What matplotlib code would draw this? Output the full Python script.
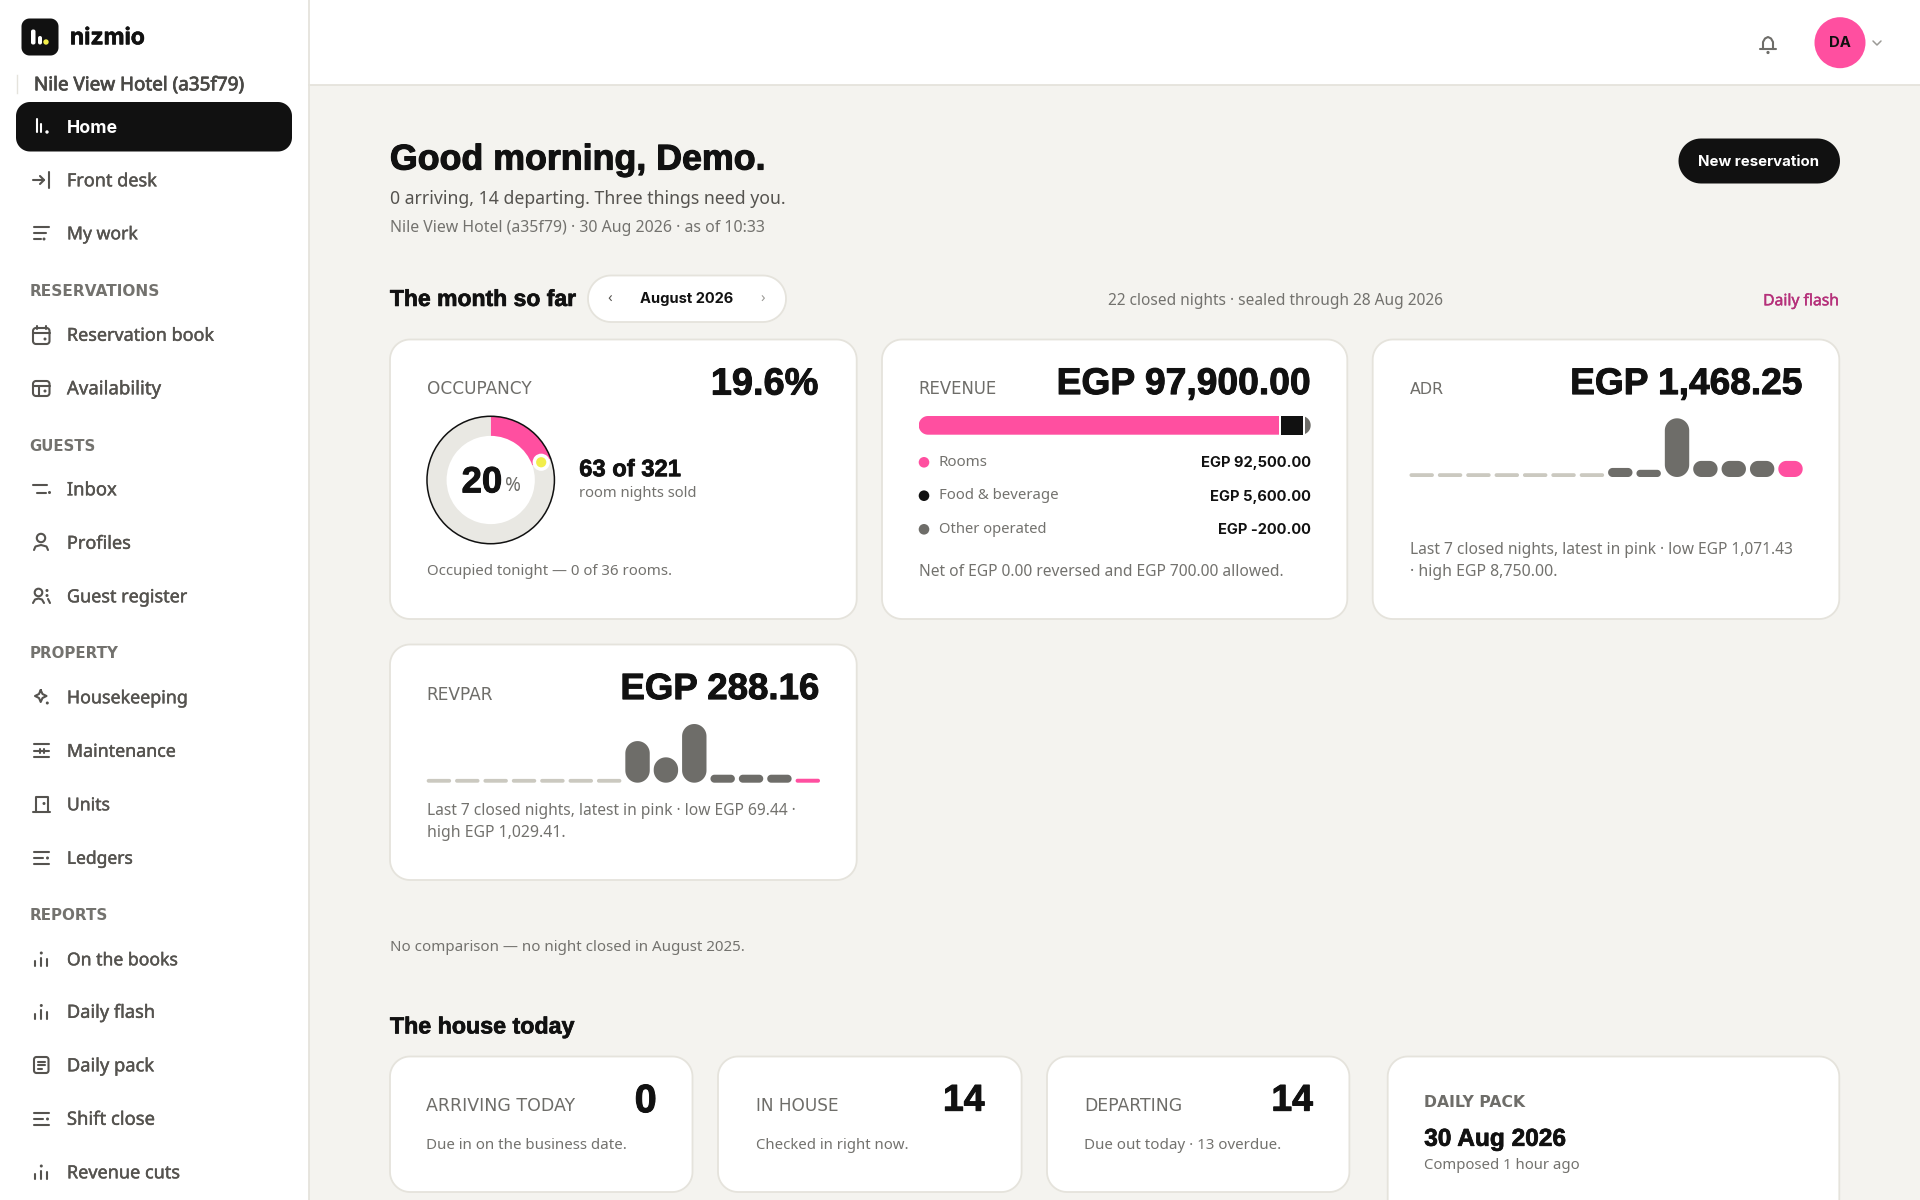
import matplotlib
matplotlib.use("Agg")
import matplotlib.pyplot as plt
import matplotlib.patheffects as pe
from matplotlib.patches import Circle, Rectangle, Polygon
from matplotlib.transforms import IdentityTransform
import numpy as np

W, H = 1920, 1200
INK = "#111111"; PINK = "#FF4FA0"; GREY = "#6E6D69"; MUTE = "#73726E"; NAV = "#55534F"
STUB = "#CBC9C0"; LINE = "#E5E3DC"; BG = "#F4F3EF"; TRACK = "#E9E8E3"; YEL = "#F2EE4A"
BODY = "Noto Sans"; HEAD = "Liberation Sans"; WIDE = "DejaVu Sans"

# --- data -----------------------------------------------------------------
rooms_sold = 63
rooms_available = 321
revenue_labels = ["Rooms", "Food & beverage", "Other operated"]
revenue_values = [92500, 5600, -200]
revenue_texts = ["EGP 92,500.00", "EGP 5,600.00", "EGP -200.00"]
adr_nights = [0, 0, 0, 0, 0, 0, 0, 1350, 1071.43, 8750, 2400, 2400, 2400, 2400]
revpar_nights = [0, 0, 0, 0, 0, 0, 0, 730, 445, 1029.41, 140, 140, 140, 69.44]

fig = plt.figure(figsize=(19.2, 12), dpi=100, facecolor=BG)
ax = fig.add_axes([0, 0, 1, 1])
ax.set_xlim(0, W); ax.set_ylim(H, 0); ax.axis("off")
rend = fig.canvas.get_renderer()


def T(x, y, s, w=None, px=16, color=INK, weight="normal", ha="left", va="center", fam=BODY, z=5, sw=0.0):
    dy = px * 0.08 if fam == HEAD else 1.3
    dx = -0.1 if ha == "left" else 0
    t = ax.text(x + dx, y + dy, s, fontsize=px * 0.72, color=color, fontweight=weight, ha=ha, va=va,
                family=fam, zorder=z, clip_on=True)
    if w:
        cur = t.get_window_extent(rend).width
        t.set_fontsize(t.get_fontsize() * w / cur)
    if sw:
        t.set_path_effects([pe.withStroke(linewidth=sw, foreground=color)])
    return t


def rr_pts(x0, y0, x1, y1, rx, ry, n=16):
    """Outline of a rectangle with truly circular corners (radii given per axis)."""
    out = []
    for cx, cy, a0 in [(x1 - rx, y1 - ry, 0), (x0 + rx, y1 - ry, 90), (x0 + rx, y0 + ry, 180), (x1 - rx, y0 + ry, 270)]:
        for a in np.radians(np.linspace(a0, a0 + 90, n)):
            out.append((cx + rx * np.cos(a), cy + ry * np.sin(a)))
    return out


def box(x0, y0, x1, y1, r, fc, ec="none", lw=1.0, z=1):
    p = Polygon(rr_pts(x0, y0, x1, y1, r, r), closed=True, fc=fc, ec=ec, lw=lw, zorder=z)
    ax.add_patch(p)
    return p


def seg(pts, color=NAV, lw=1.5, z=6):
    xs, ys = zip(*pts)
    ax.plot(xs, ys, color=color, lw=lw, solid_capstyle="round", solid_joinstyle="round", zorder=z)


def dot(x, y, r=1.5, color=NAV):
    ax.add_patch(Circle((x, y), r, fc=color, ec="none", zorder=6))


def card(x0, y0, x1, y1):
    box(x0, y0, x1, y1, 20, "white", LINE, 1.3)


def spark(x0, x1, base, top, values):
    """Rounded-bar sparkline in its own axes; the y scale spans the series' peak."""
    a = fig.add_axes([x0 / W, 1 - base / H, (x1 - x0) / W, (base - top) / H])
    a.set_xlim(-0.43, len(values) - 0.57)
    hi = max(values)
    a.set_ylim(0, hi)
    a.axis("off")
    xu = (x1 - x0) / (len(values) - 0.14)   # pixels per slot
    yu = (base - top) / hi                  # pixels per value unit
    for i, v in enumerate(values):
        last = i == len(values) - 1
        h = max(v, 3.8 / yu)
        col = PINK if last else (GREY if v > 0 else STUB)
        rpx = min(0.43 * xu, h * yu / 2)
        a.add_patch(Polygon(rr_pts(i - 0.43, 0, i + 0.43, h, rpx / xu, rpx / yu), closed=True,
                            fc=col, ec="none", clip_on=False))


# --- shell ----------------------------------------------------------------
ax.add_patch(Rectangle((0, 0), 309, H, fc="white", ec="none", zorder=0))
ax.add_patch(Rectangle((309, 0), W - 309, 84.5, fc="white", ec="none", zorder=0))
ax.plot([309, 309], [0, H], color=LINE, lw=1.3, zorder=1)
ax.plot([309, W], [84.5, 84.5], color=LINE, lw=1.3, zorder=1)

# logo
box(21.5, 18.5, 58.5, 55.5, 8, INK)
box(31, 29.5, 35.5, 44.5, 2, "white", z=2)
box(38, 36, 42, 44.5, 2, "white", z=2)
ax.add_patch(Circle((46, 42), 2.7, fc=YEL, ec="none", zorder=3))
T(70, 37, "nizmio", w=75, px=24, weight="bold", fam="Inter", sw=0.4)
ax.plot([16.5, 16.5], [75, 93], color=LINE, lw=1)
T(34, 84, "Nile View Hotel (a35f79)", w=210, px=18, color="#4A4946", sw=0.55)
box(16, 102, 292, 151.5, 14, INK)


def sec(y, s, w):
    T(29.5, y, s, w=w, px=14, color=MUTE, weight="bold", fam=WIDE)


def nav(y, s, w):
    T(67, y, s, w=w, px=17.5, color=NAV, sw=0.3)


def report_icon(y):
    seg([(35, y + 2), (35, y + 7)]); seg([(41.3, y - 1.5), (41.3, y + 7)]); seg([(47.3, y), (47.3, y + 7)])
    dot(41.3, y - 6)


def ledger_icon(y):
    seg([(33.5, y - 6), (48.5, y - 6)]); seg([(33.5, y), (43, y)]); dot(47.5, y + 0.5)
    seg([(33.5, y + 6.5), (48.5, y + 6.5)])


T(67, 127, "Home", w=51, px=17.5, color="white", weight="bold", fam="Inter")
seg([(36.5, 119), (36.5, 132)], "white"); seg([(41, 124), (41, 132)], "white")
dot(47, 132, 1.7, "white")

nav(180, "Front desk", 90)
seg([(33, 180), (44, 180)]); seg([(40, 176), (44, 180), (40, 184)]); seg([(49, 172), (49, 188)])
nav(233, "My work", 71)
seg([(33.5, 227), (49, 227)]); seg([(33.5, 233), (46, 233)]); seg([(33.5, 239), (41, 239)]); dot(44, 239)
sec(290, "RESERVATIONS", 131)
nav(334.5, "Reservation book", 147)
box(33, 328, 49.5, 344, 3, "none", NAV, 1.5, z=6)
seg([(33, 333), (49.5, 333)]); seg([(37, 325.5), (37, 329)]); seg([(45.5, 325.5), (45.5, 329)]); dot(45, 339)
nav(388, "Availability", 94)
box(33, 381, 49.5, 396, 3, "none", NAV, 1.5, z=6)
seg([(33, 386), (49.5, 386)]); seg([(39, 386), (39, 396)]); dot(45, 391)
sec(445, "GUESTS", 66)
nav(489, "Inbox", 50)
seg([(33, 485), (47, 485)]); seg([(37, 492.5), (46, 492.5)]); dot(49.5, 492.5)
nav(542.5, "Profiles", 64)
ax.add_patch(Circle((41, 538), 4.2, fc="none", ec=NAV, lw=1.5, zorder=6))
seg([(34, 550), (35.5, 546.5), (41, 545), (46.5, 546.5), (48, 550)])
nav(596, "Guest register", 120)
ax.add_patch(Circle((38.5, 592.5), 3.8, fc="none", ec=NAV, lw=1.5, zorder=6))
seg([(33, 603), (35, 599.5), (38.5, 598.5), (42, 599.5), (44, 603)])
dot(47, 590.5); dot(47, 595.5); seg([(48, 599), (50, 603)])
sec(652.5, "PROPERTY", 89)
nav(697, "Housekeeping", 121)
seg([(40.7, 690), (42.5, 694), (46.5, 696), (42.5, 698), (40.7, 702), (39, 698), (35, 696), (39, 694), (40.7, 690)])
dot(47.3, 703)
nav(750.5, "Maintenance", 109)
for yy in (744, 750.7, 757):
    seg([(33.5, yy), (49, yy)])
seg([(40, 748.5), (40, 753)]); seg([(44, 748.5), (44, 753)])
nav(804, "Units", 43)
seg([(35.5, 811.5), (35.5, 797), (48, 797), (48, 811.5)]); seg([(33, 811.5), (50, 811.5)]); dot(44, 803.5)
nav(857.5, "Ledgers", 66)
ledger_icon(857.5)
sec(914, "REPORTS", 78)
nav(959, "On the books", 111)
report_icon(959)
nav(1011.5, "Daily flash", 88)
report_icon(1011.5)
nav(1065, "Daily pack", 87)
box(34, 1057, 48.5, 1073, 2.5, "none", NAV, 1.5, z=6)
seg([(37.5, 1061.5), (45, 1061.5)]); seg([(37.5, 1065), (45, 1065)]); seg([(37.5, 1069), (42, 1069)])
nav(1118.5, "Shift close", 88)
ledger_icon(1118.5)
nav(1172, "Revenue cuts", 113)
report_icon(1172)

# --- top bar --------------------------------------------------------------
seg([(1760, 49), (1776, 49)], GREY)
seg([(1763, 49), (1763, 42), (1765, 38.5), (1768, 37), (1771, 38.5), (1773, 42), (1773, 49)], GREY)
dot(1768, 52.5, 1.6, GREY)
ax.add_patch(Circle((1840, 42.7), 25.5, fc=PINK, ec="none", zorder=3))
T(1840, 42, "DA", w=22, px=15, weight="bold", ha="center", fam="Inter")
seg([(1873, 41), (1877, 45), (1881, 41)], "#9B9A96", 1.1)

# --- greeting -------------------------------------------------------------
T(390, 157, "Good morning, Demo.", w=376, px=38, weight="bold", fam=HEAD, sw=0.8)
T(390, 197.5, "0 arriving, 14 departing. Three things need you.", w=395, px=18.5, color=NAV)
T(390, 226.5, "Nile View Hotel (a35f79) · 30 Aug 2026 · as of 10:33", w=375, px=15.5, color=MUTE)
box(1678.5, 138.5, 1840, 183.5, 22.5, INK)
T(1759, 160.5, "New reservation", w=121, px=15, color="white", weight="bold", ha="center", fam="Inter")

T(390, 297.5, "The month so far", w=186, px=24, weight="bold", fam=HEAD, sw=0.5)
box(588, 275.5, 786, 322, 23, "white", LINE, 1.3)
T(610, 298, "‹", px=15, color=NAV, ha="center")
T(763, 298, "›", px=15, color="#9B9A96", ha="center")
T(687, 298, "August 2026", w=94, px=15.5, weight="bold", ha="center", fam="Inter")
T(1108, 300, "22 closed nights · sealed through 28 Aug 2026", w=334.5, px=16, color=MUTE)
T(1839.5, 300, "Daily flash", w=76.5, px=15.5, color="#B5307A", ha="right", sw=0.3)

# --- KPI cards ------------------------------------------------------------
card(390, 339.5, 856.7, 619)
card(882, 339.5, 1347.3, 619)
card(1372.7, 339.5, 1839.3, 619)
card(390, 644.5, 856.7, 880)

# Occupancy
T(426.7, 387.7, "OCCUPANCY", w=104, px=15, color=GREY, fam=WIDE)
T(818.3, 381.7, "19.6%", w=107.6, px=36, weight="bold", ha="right", fam=HEAD, sw=0.7)
cx, cy, R = 490.7, 480, 65
d = fig.add_axes([(cx - R) / W, 1 - (cy + R) / H, 2 * R / W, 2 * R / H])
d.pie([rooms_sold, rooms_available - rooms_sold], colors=[PINK, TRACK], startangle=90, counterclock=False,
      radius=1, wedgeprops=dict(width=20 / 65, linewidth=0))
d.set_xlim(-1.02, 1.02); d.set_ylim(-1.02, 1.02)
d.add_patch(Circle((0, 0), 1.0, fc="none", ec=INK, lw=1.1, clip_on=False))
ang = 2 * np.pi * rooms_sold / rooms_available
d.add_patch(Circle((np.sin(ang) * 0.84, np.cos(ang) * 0.84), 0.135, fc="white", ec="none", zorder=5))
d.add_patch(Circle((np.sin(ang) * 0.84, np.cos(ang) * 0.84), 0.08, fc=YEL, ec="none", zorder=6))
T(461.7, 480, "20", w=40.7, px=36, weight="bold", fam=HEAD, sw=0.7)
T(505, 485, "%", w=16, px=15, color=GREY)
T(579.3, 467.7, "63 of 321", w=102, px=25, weight="bold", fam=HEAD, sw=0.5)
T(579.3, 492.5, "room nights sold", w=118.4, px=15.5, color=MUTE)
T(426.7, 570.3, "Occupied tonight — 0 of 36 rooms.", w=245.6, px=16, color=MUTE)

# Revenue
T(918.7, 387.7, "REVENUE", w=78.6, px=15, color=GREY, fam=WIDE)
T(1310.7, 381.7, "EGP 97,900.00", w=254, px=36, weight="bold", ha="right", fam=HEAD, sw=0.7)
rx0, rx1, ry0, ry1 = 918.7, 1310.7, 416, 434.7
rv = fig.add_axes([rx0 / W, 1 - ry1 / H, (rx1 - rx0) / W, (ry1 - ry0) / H])
rv.axis("off")
abs_vals = [abs(v) for v in revenue_values]
scale_max = 100630                    # EGP across the track's full width
gap = scale_max * 2.3 / (rx1 - rx0)
lefts = [0, abs_vals[0] + gap, abs_vals[0] + abs_vals[1] + 2 * gap]
widths = [abs_vals[0], abs_vals[1], scale_max - lefts[2]]
rv.set_xlim(0, scale_max); rv.set_ylim(0, 1)
bars = rv.barh([0.5] * 3, widths, height=1, left=lefts, color=[PINK, INK, GREY])
pill_clip = Polygon(rr_pts(rx0, H - ry1, rx1, H - ry0, 9.35, 9.35), closed=True, transform=IdentityTransform(),
                    fc="none", ec="none")
fig.add_artist(pill_clip)
bars[0].set_clip_path(pill_clip)
bars[2].set_clip_path(pill_clip)
for lab, txt, yy, col, lw_, vw in zip(revenue_labels, revenue_texts, [462.3, 495.7, 529.3],
                                      [PINK, INK, GREY], [49, 119.6, 108], [110.7, 101.3, 93.3]):
    ax.add_patch(Circle((924, yy), 5.3, fc=col, ec="none", zorder=4))
    T(938.7, yy - 1.2, lab, w=lw_, px=15.5, color=MUTE)
    T(1310.7, yy - 0.5, txt, w=vw, px=15.5, weight="bold", ha="right", fam="Inter")
T(918.7, 570.3, "Net of EGP 0.00 reversed and EGP 700.00 allowed.", w=364.6, px=16, color=MUTE)

# ADR
T(1410, 387.7, "ADR", w=34, px=15, color=GREY, fam=WIDE)
T(1802.3, 381.7, "EGP 1,468.25", w=232.3, px=36, weight="bold", ha="right", fam=HEAD, sw=0.7)
spark(1409.5, 1802.7, 477, 418.3, adr_nights)
T(1410, 549, "Last 7 closed nights, latest in pink · low EGP 1,071.43", w=383, px=16, color=MUTE)
T(1410, 570.3, "· high EGP 8,750.00.", w=147, px=16, color=MUTE)

# RevPAR
T(426.7, 693.3, "REVPAR", w=66.7, px=15, color=GREY, fam=WIDE)
T(819.3, 686.7, "EGP 288.16", w=199, px=36, weight="bold", ha="right", fam=HEAD, sw=0.7)
spark(426.7, 820, 782.7, 724, revpar_nights)
T(426.7, 809.3, "Last 7 closed nights, latest in pink · low EGP 69.44 ·", w=369, px=16, color=MUTE)
T(426.7, 832, "high EGP 1,029.41.", w=138.3, px=16, color=MUTE)

T(390, 946.5, "No comparison — no night closed in August 2025.", w=355, px=16, color=MUTE)

# --- the house today ------------------------------------------------------
T(390, 1025, "The house today", w=184.5, px=24, weight="bold", fam=HEAD, sw=0.5)
card(390, 1056.5, 692.5, 1192)
card(718, 1056.5, 1021.6, 1192)
card(1047, 1056.5, 1349.4, 1192)
box(1387.7, 1056.5, 1839.3, 1260, 20, "white", LINE, 1.3)

for xl, xr, lab, lw_, num, nw, note, ww in [
    (426.6, 656.8, "ARRIVING TODAY", 148.6, "0", 22, "Due in on the business date.", 201),
    (755.6, 984.6, "IN HOUSE", 82.3, "14", 41.5, "Checked in right now.", 152.4),
    (1084, 1313, "DEPARTING", 98, "14", 41.5, "Due out today · 13 overdue.", 197),
]:
    T(xl, 1105, lab, w=lw_, px=15, color=GREY, fam=WIDE)
    T(xr, 1098.3, num, w=nw, px=36, weight="bold", ha="right", fam=HEAD, sw=0.7)
    T(xl, 1144.3, note, w=ww, px=16, color=MUTE)

T(1424.3, 1101.3, "DAILY PACK", w=101, px=14, color=GREY, weight="bold", fam=WIDE)
T(1424.3, 1137.3, "30 Aug 2026", w=141.7, px=25, weight="bold", fam=HEAD, sw=0.5)
T(1424.3, 1164, "Composed 1 hour ago", w=156.4, px=16, color=MUTE)

fig.savefig("out.png", dpi=100, facecolor=BG)
